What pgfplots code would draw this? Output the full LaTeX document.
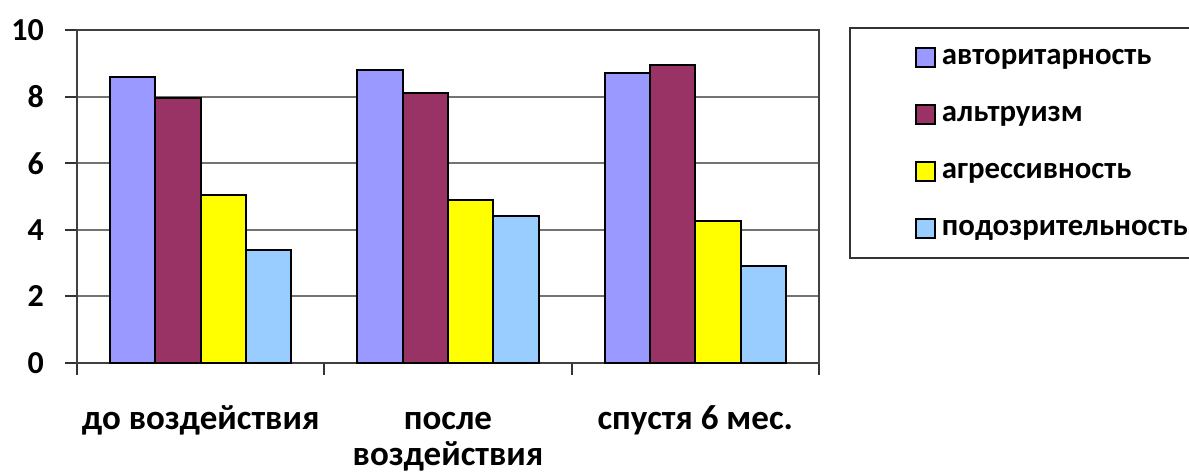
\documentclass[border=0pt]{standalone}
\usepackage{fontspec}
\setmainfont{Carlito}
\usepackage{pgfplots}
\pgfplotsset{compat=1.18}
\definecolor{cAvt}{HTML}{9999FF}
\definecolor{cAlt}{HTML}{993366}
\definecolor{cAgr}{HTML}{FFFF00}
\definecolor{cPod}{HTML}{99CCFF}
\newcommand{\lbl}{\fontsize{16}{18}\selectfont\bfseries}
\newcommand{\cat}{\fontsize{17.5}{18}\selectfont\bfseries}
\newcommand{\leg}{\fontsize{15.4}{18}\selectfont\bfseries}
\begin{document}
\begin{tikzpicture}[font=\lbl]
% frame of the whole picture, 1 px = 0.5pt
\path[use as bounding box] (-38.5pt,-54.5pt) rectangle (556pt,181.5pt);
\begin{axis}[
    scale only axis,
    width=371pt, height=166.5pt,
    ybar=0pt, bar width=0.183,
    xmin=-0.5, xmax=2.5,
    ymin=0, ymax=10,
    ytick={0,2,4,6,8,10},
    xtick={-0.5,0.5,1.5,2.5},
    x tick label as interval,
    xticklabels={\strut до воздействия, \strut после\\воздействия, \strut спустя 6 мес.},
    xticklabel style={align=center, anchor=north, yshift=-11pt, font=\cat},
    yticklabel style={anchor=east, xshift=-7pt, font=\lbl},
    /pgf/number format/assume math mode=true,
    tick align=outside, tick pos=left,
    major tick length=6pt,
    tick style={draw=black!80, line width=1pt},
    ymajorgrids,
    grid style={draw=black!55, line width=1pt},
    axis line style={draw=black!75, line width=1pt},
    every axis plot/.append style={draw=black, line width=1pt},
    legend style={
        at={(1.0404,1.01)}, anchor=north west,
        draw=black!80, line width=1pt,
        inner xsep=3pt, inner ysep=7.5pt,
        row sep=14pt,
        font=\leg,
        nodes={inner sep=0pt, text height=11pt, text depth=3.5pt},
        legend cell align=left,
    },
    legend image code/.code={
        \path (0pt,0pt) (42pt,0pt);
        \draw[#1, draw=black, line width=1pt] (29.5pt,-4.75pt) rectangle (39pt,4.75pt);
    },
    legend entries={авторитарность, альтруизм, агрессивность, подозрительность},
]
\addplot[fill=cAvt] coordinates {(0,8.6) (1,8.8) (2,8.7)};
\addplot[fill=cAlt] coordinates {(0,7.95) (1,8.1) (2,8.95)};
\addplot[fill=cAgr] coordinates {(0,5.05) (1,4.9) (2,4.25)};
\addplot[fill=cPod] coordinates {(0,3.4) (1,4.4) (2,2.9)};
\end{axis}
\end{tikzpicture}
\end{document}
